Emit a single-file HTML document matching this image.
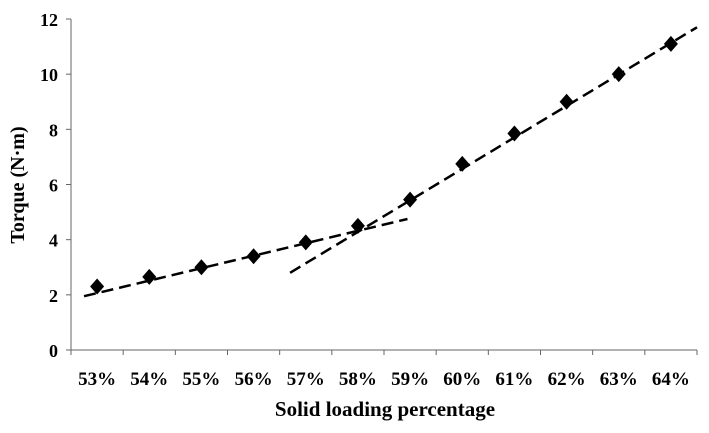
<!DOCTYPE html>
<html><head><meta charset="utf-8"><style>
body{margin:0;background:#fff;}
svg text{font-family:"Liberation Serif",serif;font-weight:bold;fill:#000;}
</style></head><body>
<svg width="709" height="428" xmlns="http://www.w3.org/2000/svg">
<g id="axes"></g>
<g id="marks"></g>
<text x="385" y="416" font-size="21" text-anchor="middle">Solid loading percentage</text>
<text transform="translate(24,185) rotate(-90)" font-size="20" text-anchor="middle">Torque (N·m)</text>
</svg>
<script>
const categories=["53%","54%","55%","56%","57%","58%","59%","60%","61%","62%","63%","64%"];
const torque=[2.3,2.65,3.0,3.4,3.9,4.5,5.45,6.75,7.85,9.0,10.0,11.1];
const yTicks=[0,2,4,6,8,10,12];
const trend1=[[-0.25,1.95],[5.95,4.75]];
const trend2=[[3.7,2.8],[11.5,11.7]];
const X0=71,X1=697,Y0=350,Y1=19;
const bw=(X1-X0)/categories.length;
function xc(i){return X0+bw*(i+0.5);}
function y(v){return Y0-(v/12)*(Y0-Y1);}
const NS="http://www.w3.org/2000/svg";
function mk(t,a,p){const e=document.createElementNS(NS,t);for(const k in a)e.setAttribute(k,a[k]);p.appendChild(e);return e;}
const ax=document.getElementById('axes'),mg=document.getElementById('marks');
let l=mk('line',{x1:X0,y1:Y1,x2:X0,y2:Y0,stroke:'#666','stroke-width':1},ax);


l=mk('line',{x1:X0,y1:Y0,x2:X1,y2:Y0,stroke:'#666','stroke-width':1},ax);


yTicks.forEach(v=>{
  mk('line',{x1:X0-5,y1:y(v),x2:X0,y2:y(v),stroke:'#666'},ax);
  const t=mk('text',{x:X0-13,y:y(v)+7,'font-size':18,'text-anchor':'end'},ax);
  t.textContent=v;
  
  
});
for(let i=0;i<=categories.length;i++){mk('line',{x1:X0+bw*i,y1:Y0,x2:X0+bw*i,y2:Y0+5,stroke:'#666'},ax);}
categories.forEach((c,i)=>{
  const t=mk('text',{x:xc(i),y:385,'font-size':19,'text-anchor':'middle'},ax);
  t.textContent=c;
  
  
});
[trend1,trend2].forEach((tr,k)=>{
  const p=mk('line',{x1:xc(tr[0][0]),y1:y(tr[0][1]),x2:xc(tr[1][0]),y2:y(tr[1][1]),stroke:'#000','stroke-width':2.5,'stroke-dasharray':'12,6'},mg);
  
  
});
torque.forEach((v,i)=>{
  const cx=xc(i),cy=y(v),s=8;
  const p=mk('polygon',{points:`${cx},${cy-s} ${cx+s-1},${cy} ${cx},${cy+s} ${cx-s+1},${cy}`,fill:'#000'},mg);
  
  
});
</script>
</body></html>
